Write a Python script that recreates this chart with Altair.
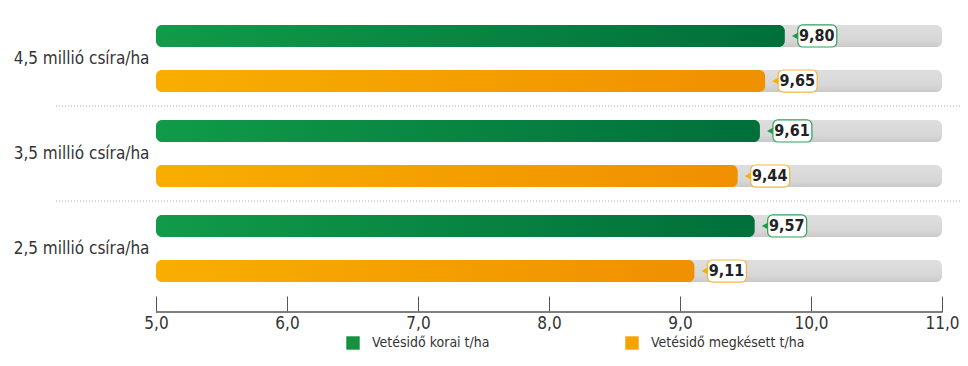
import altair as alt
import pandas as pd

groups = ["4,5 millió csíra/ha", "3,5 millió csíra/ha", "2,5 millió csíra/ha"]
series = ["Vetésidő korai t/ha", "Vetésidő megkésett t/ha"]
korai = [9.80, 9.61, 9.57]
megkesett = [9.65, 9.44, 9.11]
x_ticks = [5, 6, 7, 8, 9, 10, 11]
x_min, x_max = 5, 11

rows = []
for g, k, m in zip(groups, korai, megkesett):
    rows.append({"group": g, "series": series[0], "value": k})
    rows.append({"group": g, "series": series[1], "value": m})
df = pd.DataFrame(rows)
sep_df = pd.DataFrame({"group": groups[:-1]})

FONT = "Liberation Sans Narrow, DejaVu Sans Condensed, sans-serif"

def grad(c1, c2, vertical=False, mid=None):
    stops = [alt.GradientStop(color=c1, offset=0)]
    if mid:
        stops.append(alt.GradientStop(color=mid[0], offset=mid[1]))
    stops.append(alt.GradientStop(color=c2, offset=1))
    if vertical:
        return alt.LinearGradient(gradient="linear", stops=stops, x1=0, x2=0, y1=0, y2=1)
    return alt.LinearGradient(gradient="linear", stops=stops, x1=0, x2=1, y1=0, y2=0)

xscale = alt.Scale(domain=[x_min, x_max], nice=False, zero=False, padding=0)
yenc = alt.Y("group:N", sort=groups, scale=alt.Scale(paddingInner=0, paddingOuter=0),
             axis=alt.Axis(title=None, domain=False, ticks=False, labelPadding=7,
                           labelFontSize=17, labelColor="#333", labelFont=FONT, labelLimit=200))
yoff = alt.YOffset("series:N", sort=series, scale=alt.Scale(paddingInner=0.51, paddingOuter=0.31))

base = alt.Chart(df)

xaxis = alt.Axis(title=None, values=x_ticks, labelExpr="replace(format(datum.value, '.1f'), '.', ',')",
                 domain=False, tickSize=16, tickColor="#555", tickWidth=1, labelPadding=3,
                 labelFlush=False, labelFontSize=17, labelColor="#333", labelFont=FONT, grid=False)

bg = base.mark_bar(cornerRadius=6, color=grad("#dedede", "#c9c9c9", vertical=True, mid=("#d7d7d7", 0.7))).encode(
    x=alt.X(datum=x_min, type="quantitative", scale=xscale, axis=xaxis),
    x2=alt.datum(x_max), y=yenc, yOffset=yoff)

layers = [bg]
bar_grads = [grad("#109b49", "#006f3a"), grad("#f8ae00", "#f09000")]
box_strokes = ["#2f9f58", "#f7b53a"]
tri_fills = ["#1e9a4f", "#f6b000"]
for s, bgd, bst, tf in zip(series, bar_grads, box_strokes, tri_fills):
    sub = base.transform_filter(alt.datum.series == s)
    layers.append(sub.mark_bar(cornerRadius=6, color=bgd).encode(
        x=alt.X("value:Q", scale=xscale), x2=alt.datum(x_min), y=yenc, yOffset=yoff))
    layers.append(sub.mark_rect(xOffset=13, x2Offset=52, cornerRadius=5, fill="white",
                                stroke=bst, strokeWidth=1.2).encode(
        x=alt.X("value:Q", scale=xscale), x2="value:Q", y=yenc, yOffset=yoff))
    layers.append(sub.mark_point(shape="triangle-left", filled=True, size=45, xOffset=10,
                                 opacity=1, color=tf).encode(
        x=alt.X("value:Q", scale=xscale), y=yenc, yOffset=yoff))

txt = base.transform_calculate(label="replace(format(datum.value, '.2f'), '.', ',')").mark_text(
    dx=32, align="center", baseline="middle", fontSize=16, fontWeight="bold", font=FONT, color="#222").encode(
    x=alt.X("value:Q", scale=xscale), y=yenc, yOffset=yoff, text="label:N")

sep = alt.Chart(sep_df).mark_rule(color="#aaaaaa", strokeDash=[1, 2], strokeWidth=1).encode(
    y=alt.Y("group:N", sort=groups, bandPosition=1), x=alt.value(-100), x2=alt.value(804))

baseline = alt.Chart(sep_df).mark_rule(color="#777", strokeWidth=1.5).encode(
    x=alt.X(datum=x_min, type="quantitative", scale=xscale), x2=alt.datum(x_max), y=alt.value(301))

leg = base.mark_point(shape="square", filled=True, opacity=0).encode(
    x=alt.X("value:Q", scale=xscale), y=yenc, yOffset=yoff,
    color=alt.Color("series:N", sort=series, scale=alt.Scale(domain=series, range=["#15913f", "#f6a300"]),
                    legend=alt.Legend(title=None, orient="none", legendX=190, legendY=325, direction="horizontal",
                                      columns=2, columnPadding=99, gridAlign="all", symbolType="square",
                                      symbolSize=180, symbolOpacity=1, symbolStrokeWidth=0, labelOffset=12,
                                      labelLimit=300, labelFontSize=14, labelColor="#333", labelFont=FONT,
                                      padding=0)))

layers += [txt, sep, baseline, leg]

chart = alt.layer(*layers).properties(
    width=786, height=285,
    padding={"left": 148, "top": 3, "right": 18, "bottom": 57},
    autosize=alt.AutoSizeParams(type="none"),
).configure_view(stroke=None)

chart.save("out.html", embed_options={"renderer": "svg", "actions": False})
